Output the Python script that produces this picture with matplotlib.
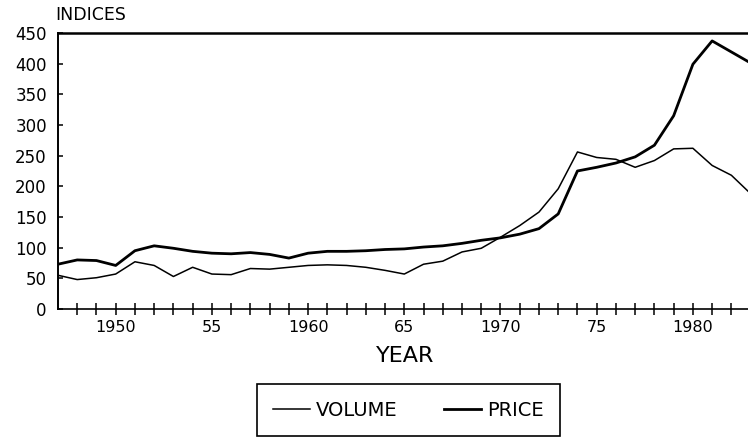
import matplotlib
matplotlib.use("Agg")
import matplotlib.pyplot as plt

# yearly indices (1947-1983, last year runs past the crop)
years = list(range(1947, 1984))
volume = [55, 48, 51, 57, 77, 71, 53, 68, 57, 56, 66, 65, 68, 71, 72, 71, 68, 63, 57,
          73, 78, 93, 99, 117, 136, 158, 196, 256, 247, 244, 231, 242, 261, 262, 234, 218, 188]
price = [73, 80, 79, 71, 95, 103, 99, 94, 91, 90, 92, 89, 83, 91, 94, 94, 95, 97, 98,
         101, 103, 107, 112, 116, 122, 131, 155, 225, 231, 238, 248, 267, 315, 399, 437, 419, 401]

tick_years = list(range(1948, 1983))
label_map = {1950: "1950", 1955: "55", 1960: "1960", 1965: "65",
             1970: "1970", 1975: "75", 1980: "1980"}
yticks = list(range(0, 451, 50))


def main():
    plt.rcParams["font.family"] = ["DejaVu Sans"]
    fig = plt.figure(figsize=(7.48, 4.41), dpi=100)
    # axes runs a bit past the right edge, like the cropped scan
    ax = fig.add_axes([0.0775, 0.2993, 0.926, 0.626])

    ax.plot(years, volume, color="black", linewidth=1.1, label="VOLUME")
    ax.plot(years, price, color="black", linewidth=2.0, label="PRICE")

    ax.set_xlim(1947, 1983)
    ax.set_ylim(0, 450)

    ax.spines["right"].set_visible(False)
    ax.spines["top"].set_linewidth(1.8)
    ax.spines["left"].set_linewidth(1.4)
    ax.spines["bottom"].set_linewidth(1.2)

    ax.set_xticks(tick_years)
    ax.set_xticklabels([label_map.get(y, "") for y in tick_years])
    ax.tick_params(axis="x", direction="inout", length=8, width=1.1,
                   pad=4.0, labelsize=11.5)
    ax.set_yticks(yticks)
    ax.tick_params(axis="y", direction="in", length=3.5, width=1.1,
                   pad=8, labelsize=12)

    fig.text(55 / 748, 1 - 15 / 441, "INDICES", ha="left", va="center", fontsize=12.5)
    fig.text(405 / 748, 1 - 356 / 441, "YEAR", ha="center", va="center", fontsize=16)

    leg = ax.legend(loc="center", bbox_to_anchor=(0.546, 0.070),
                    bbox_transform=fig.transFigure, ncol=2, fontsize=14,
                    frameon=True, fancybox=False, framealpha=1,
                    edgecolor="black", borderpad=0.85, handlelength=1.9,
                    handletextpad=0.3, columnspacing=2.4)
    leg.get_frame().set_linewidth(1.2)

    fig.savefig("out.png", dpi=100)
    plt.close(fig)


if __name__ == "__main__":
    main()
